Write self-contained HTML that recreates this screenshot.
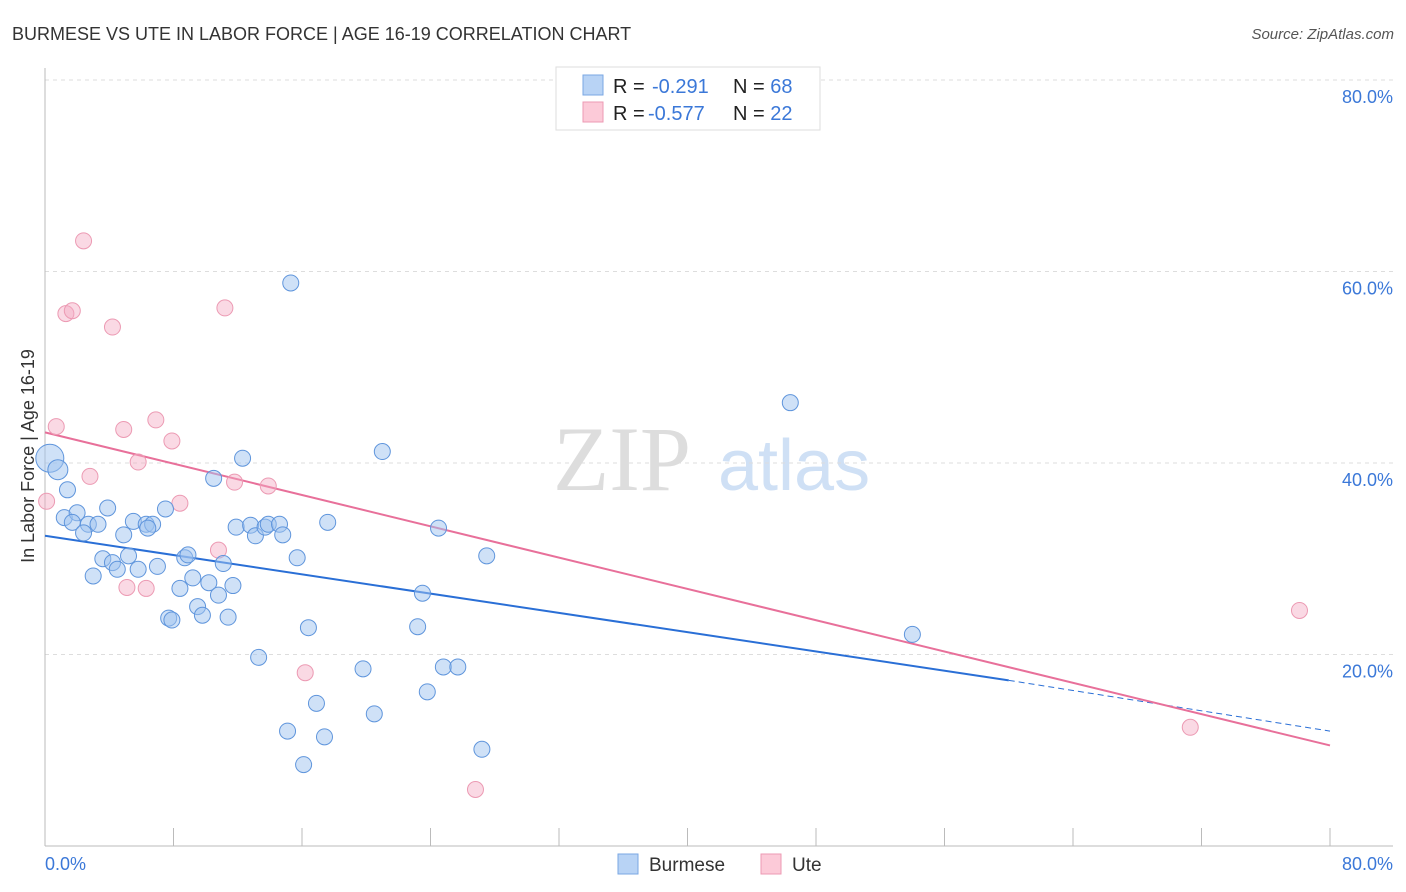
<!DOCTYPE html>
<html><head><meta charset="utf-8"><style>
body{margin:0;background:#fff;font-family:"Liberation Sans",sans-serif;}
svg{display:block}
</style></head><body>
<svg width="1406" height="892">
<text x="12" y="40" font-size="18" fill="#333">BURMESE VS UTE IN LABOR FORCE | AGE 16-19 CORRELATION CHART</text>
<text x="1394" y="39" font-size="15" fill="#555" font-style="italic" text-anchor="end">Source: ZipAtlas.com</text>
<g><text x="553" y="490" font-size="92" fill="#ddd" font-family="Liberation Serif">ZIP</text><text x="718" y="490" font-size="72" fill="#cfe0f5">atlas</text></g>
<g id="grid"></g><g id="axes"></g><g id="lines"></g><g id="pts"></g>
<text transform="translate(34,456) rotate(-90)" font-size="18" fill="#333" text-anchor="middle">In Labor Force | Age 16-19</text>
<text x="45" y="870" font-size="18" fill="#3b78d8">0.0%</text>
<text x="1393" y="870" font-size="18" fill="#3b78d8" text-anchor="end">80.0%</text>
<g>
<rect x="556" y="67" width="264" height="63" fill="#fff" stroke="#ddd"/>
<rect x="583" y="75" width="20" height="20" fill="#b8d3f5" stroke="#7aa7e3"/>
<rect x="583" y="102" width="20" height="20" fill="#fccad8" stroke="#ec9ab3"/>
<text x="613" y="93" font-size="20" fill="#222">R = <tspan x="652" fill="#3b78d8">-0.291</tspan><tspan x="733">N = </tspan><tspan fill="#3b78d8">68</tspan></text>
<text x="613" y="120" font-size="20" fill="#222">R = <tspan x="648" fill="#3b78d8">-0.577</tspan><tspan x="733">N = </tspan><tspan fill="#3b78d8">22</tspan></text>
</g>
<g>
<rect x="618" y="854" width="20" height="20" fill="#b8d3f5" stroke="#7aa7e3"/>
<text x="649" y="871" font-size="19" fill="#333">Burmese</text>
<rect x="761" y="854" width="20" height="20" fill="#fccad8" stroke="#ec9ab3"/>
<text x="792" y="871" font-size="19" fill="#333">Ute</text>
</g>
</svg>
<script>
const yTicks=[20,40,60,80];
const blueX=[0.3,0.8,1.4,1.2,2.0,1.7,2.7,3.3,2.4,3.9,3.6,4.2,4.5,3.0,4.9,5.2,5.5,5.8,6.3,6.7,6.4,7.0,7.5,8.7,8.9,8.4,9.2,10.2,10.5,9.5,9.8,10.8,11.1,11.7,11.4,7.7,7.9,12.3,11.9,12.8,13.1,13.7,13.9,14.6,14.8,15.7,15.3,16.4,16.9,15.1,13.3,16.1,17.4,17.6,19.8,20.5,21.0,23.2,23.5,23.8,24.5,24.8,25.7,27.2,27.5,46.4,54.0];
const blueY=[40.5,39.3,37.2,34.3,34.8,33.8,33.6,33.6,32.7,35.3,30.0,29.6,28.9,28.2,32.5,30.3,33.9,28.9,33.6,33.6,33.2,29.2,35.2,30.1,30.4,26.9,28.0,27.5,38.4,25.0,24.1,26.2,29.5,27.2,23.9,23.8,23.6,40.5,33.3,33.5,32.4,33.3,33.6,33.6,32.5,30.1,58.8,22.8,14.9,12.0,19.7,8.5,11.4,33.8,18.5,13.8,41.2,22.9,26.4,16.1,33.2,18.7,18.7,10.1,30.3,46.3,22.1];
const bigIdx=[0,1];
const pinkX=[0.1,0.7,2.4,1.3,1.7,4.2,2.8,4.9,5.8,6.9,7.9,8.4,11.2,10.8,11.8,13.9,5.1,6.3,16.2,26.8,78.1,71.3];
const pinkY=[36.0,43.8,63.2,55.6,55.9,54.2,38.6,43.5,40.1,44.5,42.3,35.8,56.2,30.9,38.0,37.6,27.0,26.9,18.1,5.9,24.6,12.4];
const blueLine=[0,32.4,60,17.3,80,12.0];
const pinkLine=[0,43.2,80,10.5];
const X=v=>45+v*1285/80, Y=v=>846-v*9.575;
const NS='http://www.w3.org/2000/svg';
function mk(t,a,p){const e=document.createElementNS(NS,t);for(const k in a)e.setAttribute(k,a[k]);p.appendChild(e);return e;}
const grid=document.getElementById('grid'),axes=document.getElementById('axes'),lines=document.getElementById('lines'),pts=document.getElementById('pts');
yTicks.forEach(t=>{
 const l=mk('line',{x1:45,x2:1393,y1:Y(t),y2:Y(t),stroke:'#ddd','stroke-dasharray':'4,4'},grid);
 
 
 const tx=mk('text',{x:1393,y:Y(t)+23,'font-size':18,fill:'#3b78d8','text-anchor':'end'},grid);tx.textContent=t.toFixed(1)+'%';
 
 
});
const xa=mk('line',{x1:45,x2:1393,y1:846,y2:846,stroke:'#bbb'},axes);


const ya=mk('line',{x1:45,x2:45,y1:68,y2:846,stroke:'#bbb'},axes);


for(let i=0;i<=10;i++){const tk=mk('line',{x1:X(i*8),x2:X(i*8),y1:828,y2:846,stroke:'#bbb'},axes);
 
 }
const bl=mk('line',{x1:X(blueLine[0]),y1:Y(blueLine[1]),x2:X(blueLine[2]),y2:Y(blueLine[3]),stroke:'#2a6fd6','stroke-width':2},lines);


const bd=mk('line',{x1:X(blueLine[2]),y1:Y(blueLine[3]),x2:X(blueLine[4]),y2:Y(blueLine[5]),stroke:'#2a6fd6','stroke-width':1,'stroke-dasharray':'6,4'},lines);


const pl=mk('line',{x1:X(pinkLine[0]),y1:Y(pinkLine[1]),x2:X(pinkLine[2]),y2:Y(pinkLine[3]),stroke:'#e8709a','stroke-width':2},lines);


pinkX.forEach((x,i)=>{const c=mk('circle',{cx:X(x),cy:Y(pinkY[i]),r:8,fill:'rgba(245,170,195,0.45)',stroke:'#ec9ab3','stroke-width':1},pts);
 
 });
blueX.forEach((x,i)=>{const c=mk('circle',{cx:X(x),cy:Y(blueY[i]),r:bigIdx.includes(i)?(i==0?14:10):8,fill:'rgba(160,195,240,0.5)',stroke:'#5f95dc','stroke-width':1},pts);
 
 });
</script>
</body></html>
